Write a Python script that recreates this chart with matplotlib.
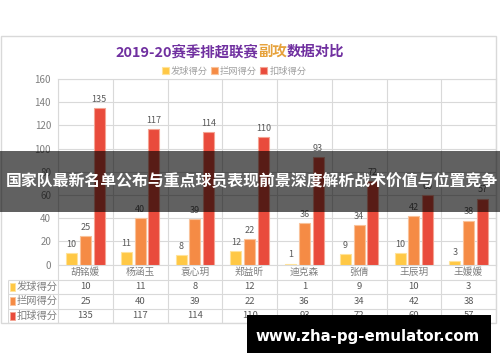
import matplotlib
matplotlib.use("Agg")
import matplotlib.pyplot as plt
from matplotlib.patches import Rectangle, Patch
import numpy as np

plt.rcParams['font.family'] = ['Noto Sans CJK SC', 'DejaVu Sans']

players = ["胡铭媛", "杨涵玉", "袁心玥", "郑益昕", "迪克森", "张倩", "王辰玥", "王媛媛"]
series_names = ["发球得分", "拦网得分", "扣球得分"]
serve = [10, 11, 8, 12, 1, 9, 10, 3]
block = [25, 40, 39, 22, 36, 34, 42, 38]
attack = [135, 117, 114, 110, 93, 72, 60, 57]
series = [serve, block, attack]
colors = ["#FFC845", "#F58B45", "#E94B3C"]
edges = ["#FFE39A", "#F9C29A", "#F4A493"]
yticks = [0, 20, 40, 60, 80, 100, 120, 140, 160]

W, H = 500, 362
fig = plt.figure(figsize=(5, 3.62), dpi=100)
grid_c = "#D9D9D9"
txt_c = "#595959"

# outer chart frame
fig.patches.append(Rectangle((1 / W, 39 / H), 495 / W, 287 / H, transform=fig.transFigure,
                             fill=False, edgecolor=grid_c, linewidth=1))

ax = fig.add_axes([58 / W, 97.3 / H, 438 / W, 185.7 / H])
x = np.arange(len(players))
offs = [-0.25, 0.0, 0.25]
for vals, c, ec, o in zip(series, colors, edges, offs):
    bars = ax.bar(x + o, vals, width=0.2, color=c, edgecolor=ec, linewidth=0.8, zorder=3)
    for b, v in zip(bars, vals):
        ax.annotate(str(v), (b.get_x() + b.get_width() / 2, v), xytext=(0, 3),
                    textcoords="offset points", ha="center", va="bottom",
                    fontsize=6.5, color=txt_c)
ax.set_xlim(-0.5, len(players) - 0.5)
ax.set_ylim(0, 160)
ax.set_yticks(yticks)
ax.set_yticklabels([str(t) for t in yticks], fontsize=7, color="#7F7F7F")
ax.set_xticks(np.arange(len(players) + 1) - 0.5, minor=False)
ax.set_xticklabels([])
ax.tick_params(length=0, pad=5)
ax.grid(True, color=grid_c, linewidth=0.8, zorder=0)
for s in ax.spines.values():
    s.set_color(grid_c)
    s.set_linewidth(0.8)

# data table under the chart
hw = 50 / 54.75
tx = fig.add_axes([8 / W, 39 / H, 488 / W, 58 / H])
tx.set_xlim(-0.5 - hw, len(players) - 0.5)
tx.set_ylim(0, 4)
tx.axis("off")
tx.hlines([0, 1, 2, 3], -0.5 - hw, len(players) - 0.5, color=grid_c, linewidth=0.8)
tx.vlines(np.arange(len(players) + 1) - 0.5, 0, 4, color=grid_c, linewidth=0.8)
tx.vlines([-0.5 - hw], 0, 3, color=grid_c, linewidth=0.8)
for i, p in enumerate(players):
    tx.text(i, 3.5, p, ha="center", va="center", fontsize=7, color="#7F7F7F")
for r, (name, vals, c, ec) in enumerate(zip(series_names, series, colors, edges)):
    yc = 2.5 - r
    tx.add_patch(Rectangle((-0.5 - hw + 0.04, yc - 0.28), 0.09, 0.56, facecolor=c,
                           edgecolor=ec, linewidth=0.6))
    tx.text(-0.5 - hw + 0.15, yc, name, ha="left", va="center", fontsize=7.4, color="#7F7F7F")
    for i, v in enumerate(vals):
        tx.text(i, yc, str(v), ha="center", va="center", fontsize=6.8, color=txt_c)

# legend
handles = [Patch(facecolor=c, edgecolor=ec, linewidth=0.8) for c, ec in zip(colors, edges)]
fig.legend(handles, series_names, loc="center", bbox_to_anchor=(234 / W, 1 - 71 / H),
           ncol=3, frameon=False, fontsize=6.7, labelcolor="#A0A0A0", handlelength=0.8,
           handleheight=0.8, handletextpad=0.2, columnspacing=0.3)

# multi-colour title
renderer = fig.canvas.get_renderer()
parts = [("2019-20赛季排超联赛", "#7030A0"), ("副攻", "#E6A23C"), ("数据对比", "#7030A0")]
texts = [fig.text(0, 1 - 52 / H, s, fontsize=10.4, fontweight="bold", color=c, va="center")
         for s, c in parts]
widths = [t.get_window_extent(renderer).width for t in texts]
xs = 230 - sum(widths) / 2
for t, w in zip(texts, widths):
    t.set_x(xs / W)
    xs += w

# overlay banner
fig.patches.append(Rectangle((0, 150 / H), 1, 61 / H, transform=fig.transFigure,
                             facecolor="black", alpha=0.62, zorder=10))
fig.text(252 / W, 1 - 181 / H, "国家队最新名单公布与重点球员表现前景深度解析战术价值与位置竞争",
         ha="center", va="center", fontsize=11.4, fontweight="bold", color="white", zorder=11)

# watermark
fig.patches.append(Rectangle((247 / W, 9 / H), 244 / W, 38 / H, transform=fig.transFigure,
                             facecolor="black", zorder=10))
fig.text(368 / W, 25 / H, "www.zha-pg-emulator.com", ha="center", va="center",
         fontsize=10.8, fontweight="bold", color="white", family="DejaVu Sans", zorder=11)

fig.savefig("out.png", dpi=100)
